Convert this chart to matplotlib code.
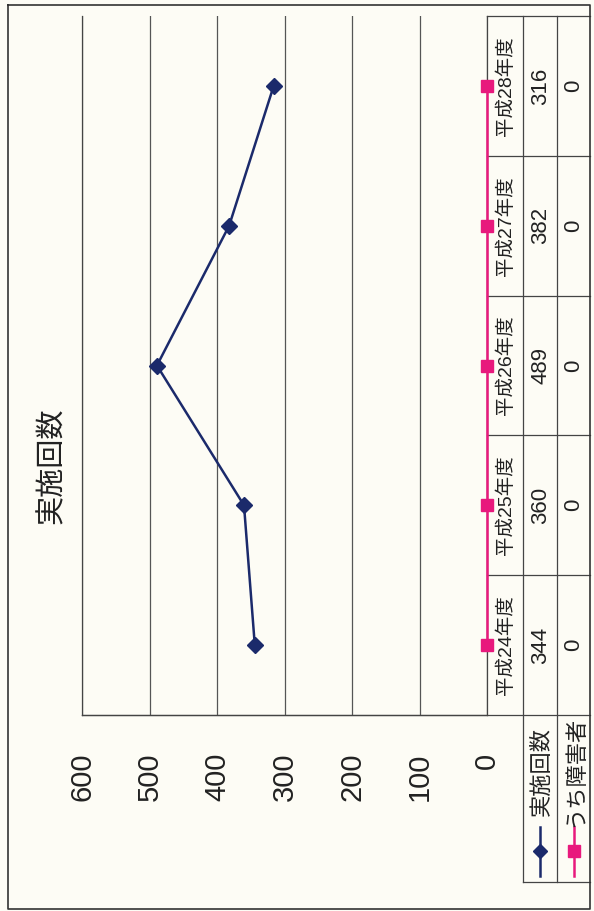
import matplotlib
matplotlib.use("Agg")
import matplotlib.pyplot as plt
import matplotlib.font_manager as fm
import matplotlib.transforms as mtransforms

# chart is printed rotated 90 degrees (text reads bottom to top)
title = "実施回数"
categories = ["平成24年度", "平成25年度", "平成26年度", "平成27年度", "平成28年度"]
series_names = ["実施回数", "うち障害者"]
jisshi = [344, 360, 489, 382, 316]
shogai = [0, 0, 0, 0, 0]
value_ticks = [0, 100, 200, 300, 400, 500, 600]

navy = "#1b2a6b"
pink = "#e8197d"
bg = "#fdfcf5"

names = {f.name for f in fm.fontManager.ttflist}
narrow = "Liberation Sans Narrow" if "Liberation Sans Narrow" in names else "Liberation Sans"
fam = [narrow, "Noto Sans CJK JP", "DejaVu Sans"]
cjk = ["Noto Sans CJK JP", "DejaVu Sans"]

W, H = 594, 911
fig = plt.figure(figsize=(W / 100, H / 100), dpi=100, facecolor=bg)

# frame axes in pixel units for borders and the data table grid
frame = fig.add_axes([0, 0, 1, 1])
frame.set_xlim(0, W)
frame.set_ylim(H, 0)
frame.axis("off")
frame.set_facecolor("none")

# main plot area: value axis runs right-to-left, categories bottom-to-top
x0, x1, y0, y1 = 82, 487, 16, 715
ax = fig.add_axes([x0 / W, 1 - y1 / H, (x1 - x0) / W, (y1 - y0) / H])
ax.set_facecolor("none")
ax.set_xlim(600, 0)
ax.set_ylim(-0.5, len(categories) - 0.5)
ax.set_xticks(value_ticks)
ax.set_xticklabels([str(v) for v in value_ticks], rotation=90, fontsize=21,
                   family=fam, color="#222222")
ax.tick_params(axis="x", length=0, pad=27)
ax.set_yticks([])
ax.grid(axis="x", color="#555555", lw=0.9)
ax.set_axisbelow(True)
ax.spines["top"].set_visible(False)
for s in ["left", "right", "bottom"]:
    ax.spines[s].set_color("#444444")
    ax.spines[s].set_linewidth(0.9)

ypos = list(range(len(categories)))
ax.plot(shogai, ypos, color=pink, lw=1.8, marker="s", ms=9, mfc=pink, mec=pink,
        clip_on=False, zorder=4)
ax.plot(jisshi, ypos, color=navy, lw=1.8, marker="D", ms=8, mfc=navy, mec=navy,
        clip_on=False, zorder=5)

# data table under the plot (to the right in the rotated page)
tr = mtransforms.blended_transform_factory(frame.transData, ax.transData)
c0, c1, c2, c3 = 487, 523, 557, 590
lkw = dict(color="#444444", lw=0.9)
frame.plot([c0, c3], [y0, y0], **lkw)
frame.plot([x0, c3], [y1, y1], **lkw)
frame.plot([c1, c1], [y0, 882], **lkw)
frame.plot([c2, c2], [y0, 882], **lkw)
frame.plot([c1, c3], [882, 882], **lkw)
for i in range(len(categories) - 1):
    frame.plot([c0, c3], [i + 0.5, i + 0.5], transform=tr, **lkw)

for i, cat in enumerate(categories):
    frame.text((c0 + c1) / 2 + 1, i, cat, transform=tr, rotation=90,
               ha="center", va="center", fontsize=14, family=fam, color="#222222")
    frame.text((c1 + c2) / 2 + 1, i, str(jisshi[i]), transform=tr, rotation=90,
               ha="center", va="center", fontsize=16, family=fam, color="#222222")
    frame.text((c2 + c3) / 2, i, str(shogai[i]), transform=tr, rotation=90,
               ha="center", va="center", fontsize=16, family=fam, color="#222222")

# legend cells
for cx, name, col, mk, ms in [((c1 + c2) / 2, series_names[0], navy, "D", 7),
                              ((c2 + c3) / 2, series_names[1], pink, "s", 9)]:
    frame.plot([cx, cx], [827, 876], color=col, lw=1.8)
    frame.plot([cx], [851], marker=mk, ms=ms, color=col)
    frame.text(cx + 1, 771, name, rotation=90, ha="center", va="center",
               fontsize=16, family=cjk, color="#222222")

# title
frame.text(52, 466, title, rotation=90, ha="center", va="center",
           fontsize=21, family=cjk, color="#222222")

# outer border
frame.plot([8, 590, 590, 8, 8], [5, 5, 909, 909, 5], color="#333333", lw=1.2)

fig.savefig("out.png", dpi=100, facecolor=bg)
